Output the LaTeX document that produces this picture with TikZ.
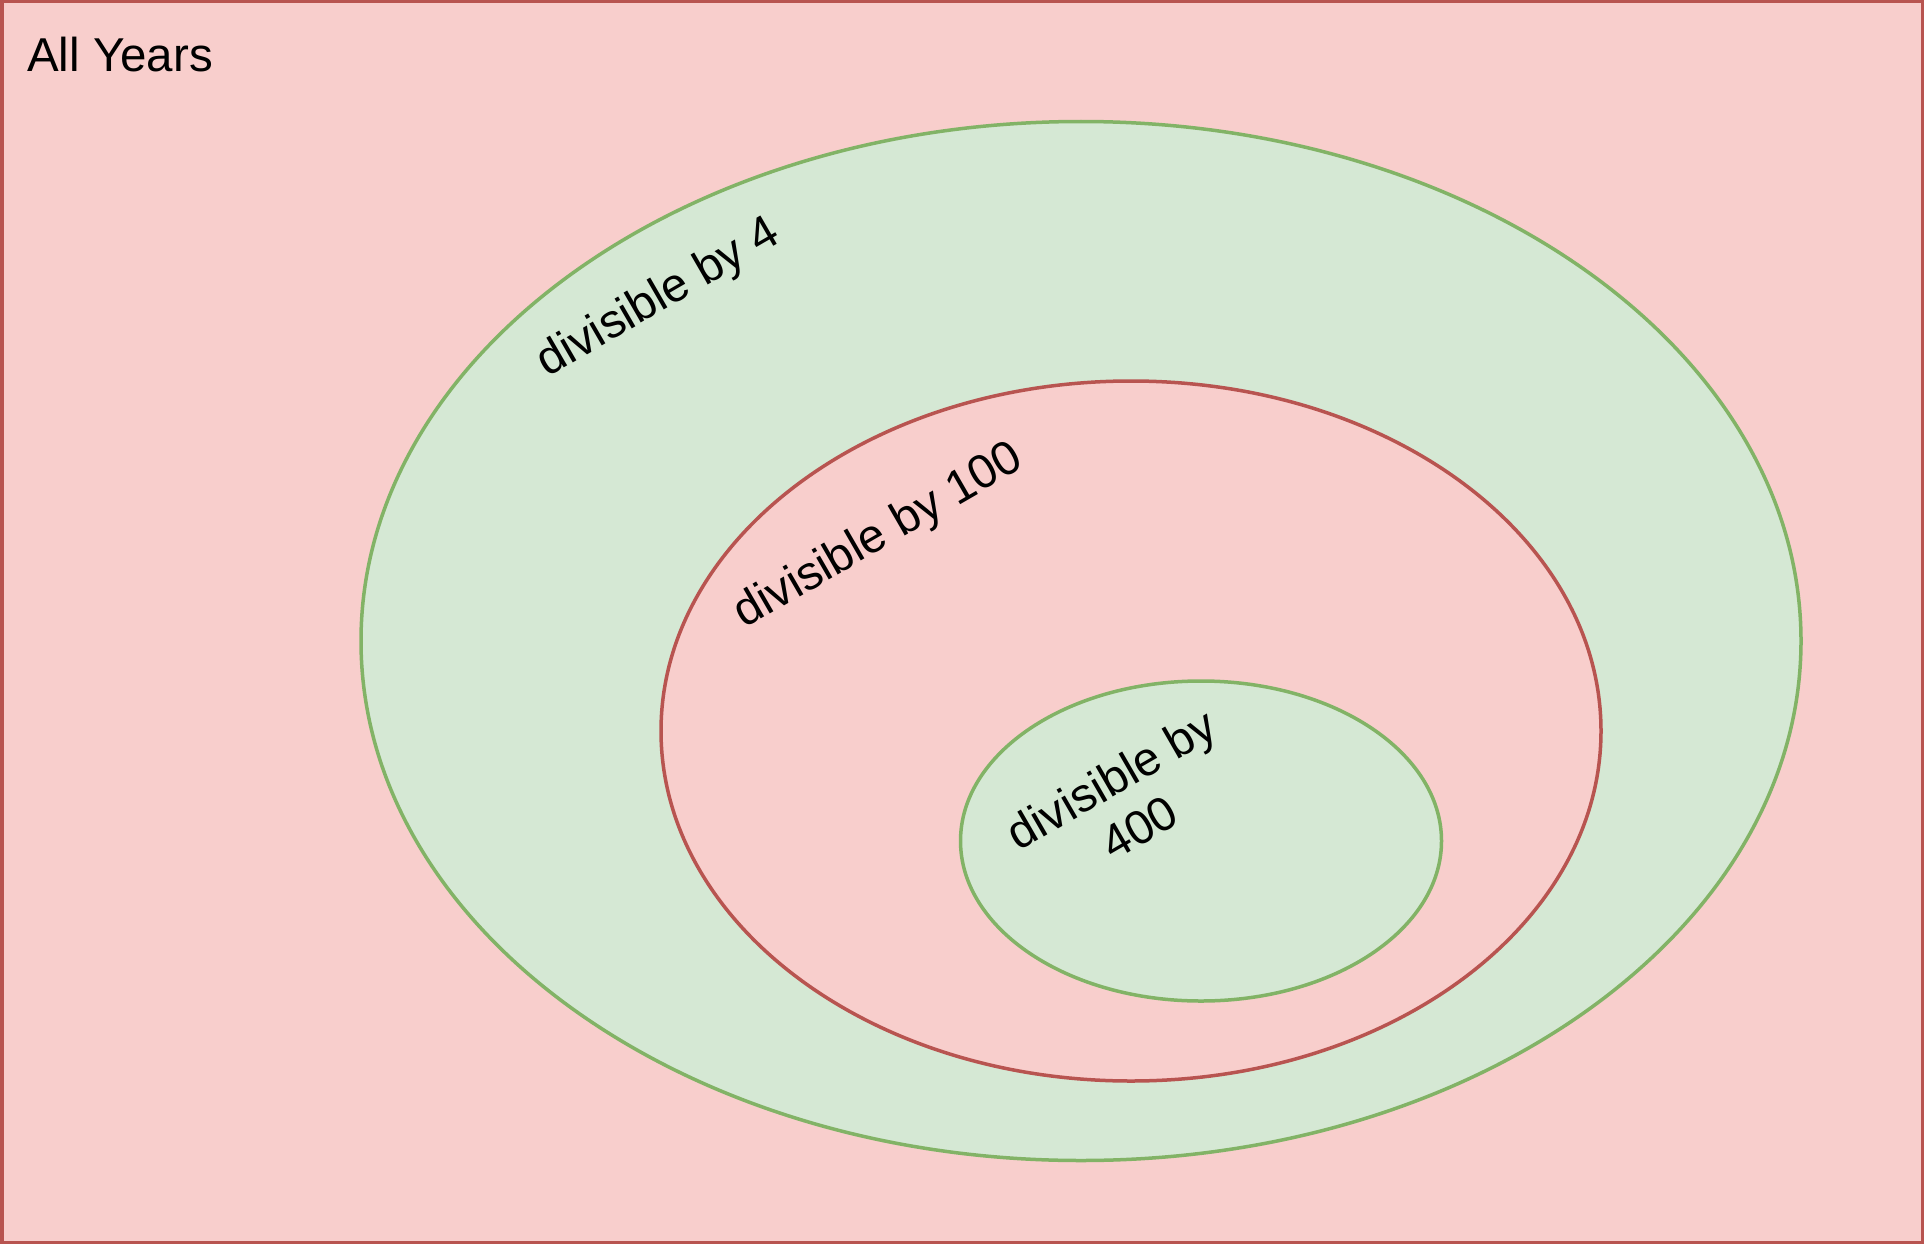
\documentclass[tikz,border=0pt]{standalone}
\usepackage{fontspec}
\setmainfont{Liberation Sans}
\usetikzlibrary{shapes.geometric}
\definecolor{redfill}{HTML}{F8CECC}
\definecolor{redline}{HTML}{B85450}
\definecolor{greenfill}{HTML}{D5E8D4}
\definecolor{greenline}{HTML}{82B366}
\tikzset{
  redset/.style={ellipse, fill=redfill, draw=redline, line width=3.5pt, inner sep=0pt},
  greenset/.style={ellipse, fill=greenfill, draw=greenline, line width=3.5pt, inner sep=0pt},
  lbl/.style={font=\fontsize{47.5}{56}\selectfont, text=black, inner sep=0pt, align=center},
}
\begin{document}
\begin{tikzpicture}[x=1pt,y=-1pt]
\useasboundingbox (0,0) rectangle (1924,1244);
\node[draw=redline, fill=redfill, line width=3.5pt, minimum width=1920.5pt, minimum height=1240.5pt, inner sep=0pt, anchor=center] (all) at (962,622) {};
\node[lbl, anchor=base west] (alltxt) at (27,72) {All Years};
\node[greenset, minimum width=1440pt, minimum height=1039pt] (d4) at (1081,641) {};
\node[redset, minimum width=940pt, minimum height=700pt] (d100) at (1131,731) {};
\node[greenset, minimum width=481pt, minimum height=320pt] (d400) at (1201,841) {};
\node[lbl, rotate=30] (t4) at (659,299) {divisible by 4};
\node[lbl, rotate=30] (t100) at (879,537) {divisible by 100};
\node[lbl, rotate=30] (t400) at (1125,803) {divisible by\\400};
\end{tikzpicture}
\end{document}
